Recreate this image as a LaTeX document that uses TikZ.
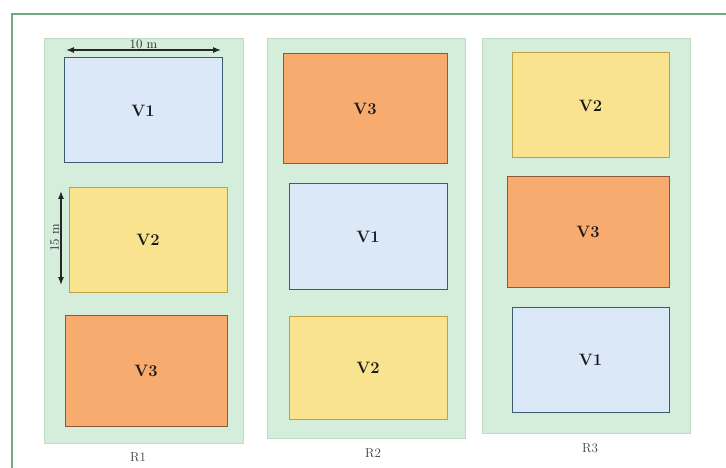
\documentclass[tikz,border=0pt]{standalone}
\usepackage{tikz}
\usetikzlibrary{arrows.meta}

\definecolor{framegreen}{HTML}{6FAA78}
\definecolor{bandgreen}{HTML}{D5EEDC}
\definecolor{bandedge}{HTML}{BCDCC6}
\definecolor{vonefill}{HTML}{DBE8F7}
\definecolor{voneedge}{HTML}{3E5A6E}
\definecolor{vtwofill}{HTML}{FAE38F}
\definecolor{vtwoedge}{HTML}{BFA145}
\definecolor{vthreefill}{HTML}{F8AB6E}
\definecolor{vthreeedge}{HTML}{8A5A3C}

\begin{document}
\begin{tikzpicture}[x=1pt,y=-1pt,
  band/.style={draw=bandedge, fill=bandgreen, line width=1pt, inner sep=0pt},
  plotbox/.style={line width=1pt, inner sep=0pt, text=black!90,
    font=\fontsize{16.5}{19}\selectfont\bfseries},
  vone/.style={plotbox, draw=voneedge, fill=vonefill},
  vtwo/.style={plotbox, draw=vtwoedge, fill=vtwofill},
  vthree/.style={plotbox, draw=vthreeedge, fill=vthreefill},
  rowlabel/.style={text=black!75, font=\fontsize{13}{15}\selectfont},
  dim/.style={{Latex[length=8pt,width=6pt]}-{Latex[length=8pt,width=6pt]}, line width=1.1pt, black!85}]
\useasboundingbox (0,0) rectangle (726,468);

% outer frame
\draw [framegreen, line width=1.2pt] (12,468) -- (12,14) -- (726,14);

% rows
\node (band1) [band, minimum width=199, minimum height=404] at (143.5,241) {};
\node (band2) [band, minimum width=198, minimum height=399] at (366,238.5) {};
\node (band3) [band, minimum width=208, minimum height=394] at (586,236) {};
\node (lab1) [rowlabel] at (138,457) {R1};
\node (lab2) [rowlabel] at (373,453) {R2};
\node (lab3) [rowlabel] at (590,448) {R3};

% R1
\node (a1) [vone, minimum width=158, minimum height=105] at (143,110.5) {V1};
\node (a2) [vtwo, minimum width=158, minimum height=104] at (148,240) {V2};
\node (a3) [vthree, minimum width=162, minimum height=111] at (146,370.5) {V3};

% R2
\node (b3) [vthree, minimum width=164, minimum height=110] at (365,109) {V3};
\node (b1) [vone, minimum width=158, minimum height=105] at (368,236.5) {V1};
\node (b2) [vtwo, minimum width=158, minimum height=103] at (368,367.5) {V2};

% R3
\node (c2) [vtwo, minimum width=157, minimum height=105] at (590.5,105.5) {V2};
\node (c3) [vthree, minimum width=162, minimum height=110] at (588,232) {V3};
\node (c1) [vone, minimum width=157, minimum height=105] at (590.5,359.5) {V1};

% dimensions
\coordinate (wl) at (66,50);
\coordinate (wr) at (221,50);
\draw [dim] (wl) -- node (wlab) [above=-2.5pt, font=\fontsize{13}{15}\selectfont] {10 m} (wr);
\coordinate (ht) at (61,191);
\coordinate (hb) at (61,285);
\draw [dim] (ht) -- node (hlab) [left=-2pt, rotate=90, anchor=south, font=\fontsize{13}{15}\selectfont] {15 m} (hb);

\end{tikzpicture}
\end{document}
